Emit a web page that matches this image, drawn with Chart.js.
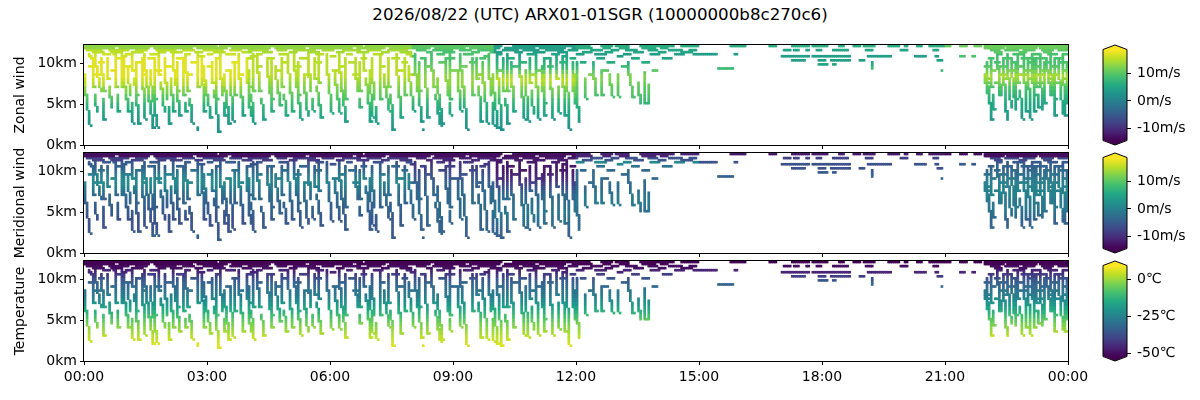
<!DOCTYPE html>
<html><head><meta charset="utf-8">
<script src="https://cdn.jsdelivr.net/npm/chart.js@4.4.1/dist/chart.umd.min.js"></script>
<style>
html,body{margin:0;padding:0;background:#fff;}
#wrap{position:relative;width:1200px;height:400px;overflow:hidden;background:#fff;}
#title{position:absolute;left:0;top:5px;width:1200px;text-align:center;font-family:"DejaVu Sans";font-size:16.67px;line-height:20px;color:#000;}
canvas{position:absolute;}
</style></head><body>
<div id="wrap">
<div id="title">2026/08/22 (UTC) ARX01-01SGR (10000000b8c270c6)</div>
<canvas id="p0"></canvas><canvas id="p1"></canvas><canvas id="p2"></canvas>
<canvas id="c0"></canvas><canvas id="c1"></canvas><canvas id="c2"></canvas>
</div>
<script>
// ---------------- data ----------------
const TIME_STEP_MIN = 3;
const HEIGHT_STEP_KM = 0.25;
const HEIGHT_MAX_KM = 12.25;
const xTickMinutes = [0,180,360,540,720,900,1080,1260,1440];
const xTickLabels = ["00:00","03:00","06:00","09:00","12:00","15:00","18:00","21:00","00:00"];
const yTickKm = [0,5,10];
const windTicks = [-10,0,10];
const tempTicks = [-50,-25,0];
const windRange = [-14.2,18.5];
const tempRange = [-52.1,9.3];
const panelTitles = ["Zonal wind","Meridional wind","Temperature"];

// profile levels (km) used to colour cells, and the time windows they apply to
const profileLevelsKm = [2,2.5,3,3.5,4,4.5,5,5.5,6,6.5,7,7.5,8,8.5,9,9.5,10,10.5,11,11.5,12];
const windowStarts = ["00:00","04:00","08:00","10:00","12:00","15:00","21:00"];

const zonalW0 = [2,3,3,4,5,6,7,9,10,12,13,15,16,17,17,17,17,17,16,15,13];
const zonalW1 = [3,3,4,5,6,7,8,9,10,11,12,13,14,15,15,15,15,15,15,14,13];
const zonalW2 = [2,3,3,4,5,6,7,8,10,11,12,13,13,13,12,11,10,9,9,9,10];
const zonalW3 = [2,3,3,4,5,6,7,8,10,11,12,14,15,14,11,8,7,6,5,4,4];
const zonalW4 = [2,3,3,4,5,6,7,8,9,10,10,11,12,12,10,8,6,5,4,5,6];
const zonalW5 = [2,3,3,4,5,6,7,8,9,10,10,11,12,12,8,8,5,4,4,5,6];
const zonalW6 = [2,3,3,3,4,5,5,6,7,8,9,11,13,14,12,10,9,9,9,10,11];

const meridW0 = [-4,-5,-6,-6,-6,-6,-5,-5,-4,-4,-3,-2,0,1,1,0,-2,-4,-5,-8,-13];
const meridW1 = [-5,-5,-5,-5,-5,-5,-4,-4,-4,-3,-3,-2,-1,0,0,-1,-3,-4,-6,-9,-13];
const meridW2 = [-4,-4,-4,-4,-4,-3,-3,-3,-3,-3,-3,-3,-4,-4,-5,-6,-7,-8,-9,-11,-13];
const meridW3 = [-4,-4,-4,-3,-2,-2,-1,-2,-2,-3,-3,-4,-6,-8,-10,-11,-12,-12,-12,-12,-13];
const meridW4 = [-3,-3,-3,-3,-3,-2,-2,-2,-1,-1,-1,-2,-3,-3,-3,-3,-3,-2,1,-6,-11];
const meridW5 = [-3,-3,-3,-3,-3,-3,-3,-3,-3,-3,-3,-3,-3,-3,-3,-4,-5,-6,-6,-8,-12];
const meridW6 = [-3,-3,-3,-4,-4,-3,-2,-1,-1,-1,0,0,0,0,-1,-2,-3,-4,-5,-7,-13];

const temperatureProfile = [6,4,3,1,-1,-3,-6,-9,-13,-16,-20,-23,-26,-28,-31,-33,-36,-41,-46,-50,-54];

// profile tracks: time, km, time, km ... ("~" before a time = gap before that point)
const descentTracks = [
 ["00:00",8.5,"00:03",6.0,"00:09",2.4],["00:06",11.0,"00:12",10.5,"00:15",7.0,"~00:16",6.0,"00:19",4.0],
 ["00:15",11.25,"00:18",9.5,"00:25",6.5,"~00:27",5.5,"00:30",3.0],["00:33",10.5,"00:36",8.0,"~00:37",7.0,"00:41",4.5],
 ["00:39",11.5,"00:45",11.0,"00:48",7.0,"~00:49",6.0,"00:51",4.0],["00:57",10.75,"00:58",8.0,"01:06",4.1],
 ["01:03",9.5,"01:08",6.0,"~01:09",5.0,"01:12",2.7],["01:09",11.25,"01:12",9.0,"~01:14",8.0,"01:21",2.6],["01:24",10.5,"01:30",3.2],
 ["01:27",11.0,"01:33",7.0,"01:42",2.0],["01:36",9.0,"01:45",3.5,"01:48",2.2],
 ["01:48",11.5,"01:51",8.5,"~01:53",7.5,"01:58",4.1],["01:57",10.5,"02:02",5.5,"~02:03",4.5,"02:06",2.6],["02:06",8.0,"02:12",4.0],
 ["02:09",11.25,"02:12",9.0,"02:21",3.5],["02:24",10.5,"02:27",6.0,"~02:28",5.0,"02:30",4.0],
 ["02:27",11.0,"02:33",6.5,"~02:35",5.5,"02:39",2.7],["02:45",2.0,"02:45",1.75],["02:51",10.5,"02:57",4.1],
 ["02:54",9.5,"03:00",6.0,"03:06",3.3],["03:06",10.0,"03:09",7.5,"~03:11",6.5,"03:18",1.6],
 ["03:18",11.0,"03:23",6.0,"~03:24",5.0,"03:27",3.6],["03:24",8.5,"03:33",2.6],["03:33",9.0,"03:39",2.9],
 ["03:45",11.0,"03:48",8.0,"03:54",3.6],["03:57",10.5,"04:04",3.5],["04:00",9.0,"04:03",7.0,"~04:05",6.0,"04:09",2.7],
 ["04:12",11.0,"04:18",6.5,"~04:20",5.5,"04:24",3.0],["04:27",10.5,"04:36",4.1],["04:39",9.5,"04:48",4.8],
 ["04:48",10.5,"04:51",7.0,"~04:53",6.0,"04:57",3.5],["04:57",11.0,"05:06",4.1],
 ["05:06",11.0,"05:12",7.0,"05:18",3.2],["05:21",8.5,"05:28",3.5],["05:27",11.0,"05:32",6.5,"~05:33",5.5,"05:36",4.2],
 ["05:36",10.5,"05:39",8.0,"~05:41",7.0,"05:48",3.3],["05:54",11.0,"06:03",3.9],["06:06",9.0,"06:15",3.9],
 ["06:12",11.0,"06:18",6.5,"06:24",2.8],["06:36",10.5,"06:41",6.5,"~06:42",5.5,"06:45",4.5],["06:48",11.0,"06:51",9.0,"~06:53",8.0,"07:00",2.8],
 ["06:57",9.0,"07:03",3.4],["07:00",10.5,"07:05",5.5,"~07:06",4.5,"07:09",2.7],["07:18",8.5,"07:27",4.2],
 ["07:24",10.5,"07:27",7.0,"~07:29",6.0,"07:33",1.8],["07:36",11.0,"07:45",3.3],["07:54",9.5,"08:03",4.2],
 ["08:03",11.0,"08:06",8.5,"08:15",2.8],["08:15",1.75,"08:15",1.75],["08:18",10.5,"08:24",3.3],
 ["08:27",11.0,"08:33",7.0,"~08:35",6.0,"08:42",2.4],["08:36",8.0,"08:45",2.6],["08:48",10.5,"08:53",6.0,"~08:54",5.0,"08:57",3.7],
 ["09:06",9.0,"09:12",4.2],["09:09",11.0,"09:15",7.0,"09:21",1.9],["09:33",10.5,"09:36",8.0,"~09:38",7.0,"09:42",2.8],
 ["09:42",10.0,"09:51",2.7],["09:51",11.0,"09:56",6.0,"~09:57",5.0,"10:00",2.4],["09:57",8.5,"10:06",2.0],
 ["10:03",11.0,"10:06",8.0,"10:12",1.8],["10:12",10.5,"10:15",6.5,"~10:17",5.5,"10:21",2.6],["10:24",10.0,"10:30",4.1],
 ["10:36",11.0,"10:45",3.2],["10:45",9.0,"10:51",2.9],["10:51",10.5,"10:54",7.5,"~10:55",6.5,"10:58",3.8],
 ["11:00",11.0,"11:06",3.2],["11:09",9.5,"11:15",3.5],["11:21",10.5,"11:27",3.2],
 ["11:30",11.0,"11:33",8.0,"~11:34",7.0,"11:36",3.9],["11:39",10.5,"11:45",3.6],["11:45",11.0,"11:51",1.9],
 ["11:57",8.5,"12:00",5.0],["12:00",10.0,"12:04",2.9],["12:12",8.0,"12:15",5.7],["12:24",10.0,"12:30",6.1],
 ["12:36",8.8,"12:39",6.0],["12:48",8.6,"12:54",5.9],["13:00",8.5,"13:03",5.9],
 ["13:15",10.0,"13:24",5.8],["13:30",7.5,"13:35",5.1],["13:39",8.8,"13:42",5.1],
 ["13:45",7.3,"13:47",5.1],["19:12",10.0,"19:12",9.25],["20:54",9.0,"20:54",9.0],
 ["21:57",8.7,"22:03",6.3],["22:03",7.0,"22:09",3.0],["22:06",10.5,"22:09",7.0,"~22:10",6.0,"22:12",4.3],
 ["22:15",11.0,"22:23",6.3],["22:24",10.5,"22:31",3.0],["22:30",11.0,"22:33",8.0,"22:37",4.6],
 ["22:36",10.5,"22:44",4.3],["22:45",11.0,"22:48",7.5,"~22:50",6.5,"22:54",3.2],["22:54",11.0,"23:00",4.1],
 ["23:00",10.5,"23:06",3.2],["23:06",11.0,"23:12",4.1],["23:12",10.5,"23:15",7.0,"~23:16",6.0,"23:18",4.5],
 ["23:18",11.0,"23:23",4.3],["23:27",10.5,"23:36",6.1],["23:33",11.0,"23:42",3.6],
 ["23:45",10.5,"23:53",3.8],["23:51",11.0,"23:57",3.6]
];
const shortTracks = [
 ["00:24",10.5,"00:30",6.5],["00:54",11.0,"00:57",7.0],["01:15",10.0,"01:18",6.0],["01:42",10.5,"01:45",5.5],
 ["02:15",10.0,"02:18",6.5],["02:45",11.0,"02:48",7.0],["03:12",10.5,"03:15",5.5],["03:39",10.0,"03:42",6.0],
 ["04:06",11.0,"04:09",6.5],["04:33",10.5,"04:36",5.5],["05:12",10.0,"05:15",6.0],["05:42",11.0,"05:45",7.5],
 ["06:21",10.5,"06:24",5.5],["06:42",10.0,"06:45",6.5],["07:12",11.0,"07:15",5.5],["07:48",10.5,"07:51",6.0],
 ["08:09",10.0,"08:12",6.5],["08:54",11.0,"08:57",5.5],["09:27",10.5,"09:30",6.0],["10:18",11.0,"10:21",6.5],
 ["11:12",10.5,"11:15",5.0],["11:54",10.0,"11:57",6.5],["22:00",10.0,"22:03",7.5],["22:18",9.5,"22:21",6.0],
 ["22:42",10.0,"22:45",5.5],["23:09",10.5,"23:12",6.0],["23:24",10.0,"23:27",5.0],["23:39",10.5,"23:42",5.5],
 ["23:57",10.0,"24:00",5.0]
];

// level (cruise) segments per height row: [start, end]
const row1200 = [["00:00","03:12"],["03:18","06:45"],["06:51","10:09"],["10:27","12:18"],["12:36","12:51"],["12:57","13:15"],["13:33","14:21"],["14:33","14:57"],["15:45","16:06"],["16:42","16:51"],["17:15","17:39"],["17:45","18:06"],["18:24","18:30"],["18:45","18:54"],["19:00","19:15"],["19:36","19:51"],["20:00","20:03"],["20:18","20:24"],["20:36","21:06"],["21:21","21:30"],["21:42","21:51"],["21:57","24:00"]];
const row1175 = [["00:00","00:42"],["00:51","01:33"],["01:42","02:36"],["02:45","03:27"],["03:36","04:30"],["04:39","05:21"],["05:30","06:30"],["06:39","07:18"],["07:27","08:24"],["08:33","09:15"],["09:24","10:06"],["10:15","10:57"],["11:06","11:42"],["11:54","12:21"],["12:39","12:48"],["13:03","13:15"],["13:36","13:54"],["14:03","14:12"],["21:57","22:24"],["22:30","23:12"],["23:18","24:00"]];
const row1150 = [["00:03","00:24"],["00:36","01:03"],["01:15","01:30"],["01:45","02:12"],["02:24","02:39"],["02:54","03:21"],["03:33","03:48"],["04:00","04:27"],["04:42","04:54"],["05:06","05:36"],["05:48","06:03"],["06:18","06:42"],["06:54","07:12"],["07:24","07:51"],["08:06","08:18"],["08:30","08:57"],["09:09","09:24"],["09:36","10:00"],["10:12","10:33"],["10:42","11:03"],["11:15","11:39"],["11:48","12:00"],["12:21","12:36"],["12:51","13:00"],["13:12","13:27"],["13:45","13:57"],["14:15","14:33"],["14:45","14:54"],["17:03","17:12"],["17:18","17:24"],["17:36","17:39"],["17:51","17:57"],["18:15","18:36"],["19:03","19:12"],["19:54","20:03"],["20:42","20:48"],["22:06","22:18"],["22:27","22:45"],["22:54","23:09"],["23:21","23:36"],["23:45","24:00"]];
const row1125 = [["00:12","00:27"],["00:45","00:54"],["01:09","01:24"],["01:51","01:57"],["02:06","02:21"],["02:42","02:51"],["03:09","03:24"],["03:51","04:03"],["04:21","04:33"],["05:00","05:09"],["05:27","05:42"],["06:09","06:18"],["06:39","06:54"],["07:15","07:24"],["07:42","07:57"],["08:21","08:27"],["08:45","09:00"],["09:27","09:36"],["09:54","10:09"],["10:30","10:39"],["10:57","11:12"],["11:33","11:45"],["12:09","12:21"],["12:42","12:51"],["13:24","13:36"],["14:00","14:09"],["14:33","14:48"],["22:12","22:21"],["22:48","22:57"],["23:24","23:33"]];
const row1100 = [["00:27","00:36"],["01:00","01:06"],["01:36","01:48"],["02:27","02:33"],["03:00","03:06"],["03:27","03:39"],["04:12","04:18"],["04:45","04:57"],["05:39","05:48"],["06:24","06:30"],["07:03","07:15"],["07:51","07:57"],["08:36","08:45"],["09:15","09:27"],["10:03","10:09"],["10:48","10:57"],["11:24","11:33"],["12:00","12:09"],["12:27","12:42"],["13:09","13:18"],["13:48","14:00"],["14:24","14:36"],["14:51","15:24"],["15:51","15:54"],["22:15","22:21"],["22:39","22:51"],["23:06","23:15"],["23:30","23:42"],["23:51","23:57"]];
const row1075 = [["00:54","01:00"],["02:48","02:54"],["04:03","04:09"],["06:00","06:06"],["07:57","08:03"],["09:45","09:51"],["11:39","11:45"],["13:00","13:06"],["17:00","17:12"],["17:15","17:24"],["17:27","17:39"],["17:45","18:27"],["18:30","18:39"],["19:06","19:24"],["19:27","19:39"],["20:15","20:30"],["20:45","20:48"],["21:21","21:27"],["21:39","21:42"]];
const row1050 = [["00:48","00:54"],["01:33","01:39"],["02:15","02:24"],["03:12","03:18"],["03:57","04:06"],["04:30","04:36"],["05:15","05:24"],["06:45","06:51"],["07:30","07:39"],["08:12","08:18"],["08:51","09:00"],["09:39","09:45"],["10:18","10:27"],["11:12","11:18"],["11:51","11:57"],["12:30","12:39"],["13:21","13:30"],["14:06","14:18"],["22:03","22:09"],["22:24","22:33"],["22:51","23:03"],["23:15","23:24"],["23:39","23:48"]];
const row1025 = [["17:15","17:33"],["17:54","18:03"],["18:12","18:27"],["18:30","18:39"],["18:54","19:00"],["20:48","20:54"]];
const row1000 = [["00:21","00:27"],["01:18","01:27"],["02:36","02:42"],["03:36","03:42"],["04:51","04:57"],["05:39","05:45"],["06:27","06:36"],["07:45","07:51"],["08:39","08:45"],["09:24","09:30"],["10:39","10:45"],["11:36","11:42"],["12:06","12:12"],["12:45","12:54"],["13:36","13:45"],["22:12","22:18"],["22:36","22:42"],["23:00","23:09"],["23:27","23:33"],["23:48","23:57"]];
const row0975 = [["17:54","18:06"],["18:15","18:18"]];
const row0950 = [["00:06","00:12"],["01:00","01:06"],["02:00","02:09"],["03:00","03:06"],["04:12","04:18"],["05:09","05:15"],["06:15","06:21"],["07:12","07:18"],["08:21","08:27"],["09:12","09:18"],["10:27","10:33"],["11:18","11:24"],["13:06","13:15"],["21:57","22:03"],["22:18","22:30"],["22:45","22:51"],["23:09","23:18"],["23:36","23:45"]];
const row0925 = [["15:27","15:48"]];
const row0900 = [["00:39","00:45"],["01:45","01:51"],["03:27","03:33"],["04:39","04:45"],["06:03","06:09"],["07:39","07:45"],["08:57","09:03"],["10:06","10:12"],["11:03","11:09"],["12:36","12:45"],["13:51","13:57"],["22:06","22:12"],["22:33","22:39"],["22:57","23:03"],["23:21","23:27"],["23:51","24:00"]];
const row0850 = [["00:15","00:21"],["01:24","01:30"],["02:30","02:36"],["03:45","03:51"],["05:24","05:30"],["06:33","06:39"],["07:54","08:00"],["09:36","09:42"],["10:51","10:57"],["12:18","12:24"],["22:21","22:27"],["22:48","22:57"],["23:12","23:21"],["23:39","23:45"]];
const row0800 = [["22:00","22:06"],["22:27","22:33"],["23:03","23:09"],["23:30","23:39"],["23:54","24:00"]];
const row0750 = [["22:12","22:15"],["22:39","22:45"],["23:15","23:21"],["23:42","23:48"]];
const levelRowKm = [12.0,11.75,11.5,11.25,11.0,10.75,10.5,10.25,10.0,9.75,9.5,9.25,9.0,8.5,8.0,7.5];

// ---------------- build ----------------
const levelRows = [row1200,row1175,row1150,row1125,row1100,row1075,row1050,row1025,row1000,row0975,row0950,row0925,row0900,row0850,row0800,row0750];
const zonalProfiles = [zonalW0,zonalW1,zonalW2,zonalW3,zonalW4,zonalW5,zonalW6];
const meridProfiles = [meridW0,meridW1,meridW2,meridW3,meridW4,meridW5,meridW6];
const NT = Math.round(1440/TIME_STEP_MIN);

function toMin(s){ const p=s.replace('~','').split(':'); return (+p[0])*60+(+p[1]); }
const cellSet = new Set();
function mark(t,h){
  let ti=Math.floor(t/TIME_STEP_MIN); if(ti>=NT) ti=NT-1; if(ti<0) ti=0;
  const hi=Math.floor(h/HEIGHT_STEP_KM+1e-6);
  cellSet.add(ti*64+hi);
}
function rasterSegment(t0,h0,t1,h1){
  const n=Math.max(1,Math.ceil(Math.max(Math.abs(t1-t0)/TIME_STEP_MIN,Math.abs(h1-h0)/HEIGHT_STEP_KM))*2);
  for(let k=0;k<=n;k++) mark(t0+(t1-t0)*k/n, h0+(h1-h0)*k/n);
}
descentTracks.concat(shortTracks).forEach(tr=>{
  for(let i=0;i+3<tr.length;i+=2){
    if(String(tr[i+2]).charAt(0)==='~'){ mark(toMin(tr[i+2]),tr[i+3]); continue; }
    rasterSegment(toMin(tr[i]),tr[i+1],toMin(tr[i+2]),tr[i+3]);
  }
});
levelRows.forEach((row,r)=>row.forEach(([a,b])=>rasterSegment(toMin(a),levelRowKm[r],toMin(b),levelRowKm[r])));

const cells = Array.from(cellSet).sort((a,b)=>a-b).map(c=>({ti:Math.floor(c/64),hi:c%64}));
const windowMin = windowStarts.map(toMin);
function windowIndex(m){ let w=0; windowMin.forEach((s,i)=>{ if(m>=s) w=i; }); return w; }
function levelIndex(km){
  let best=0,bd=1e9;
  profileLevelsKm.forEach((l,i)=>{ const d=Math.abs(l-km); if(d<bd-1e-9){bd=d;best=i;} });
  return best;
}
const zonalValues=[], meridValues=[], tempValues=[];
cells.forEach(c=>{
  const m=c.ti*TIME_STEP_MIN, km=c.hi*HEIGHT_STEP_KM+HEIGHT_STEP_KM/2;
  const w=windowIndex(m), li=levelIndex(km);
  zonalValues.push(zonalProfiles[w][li]);
  meridValues.push(meridProfiles[w][li]);
  tempValues.push(temperatureProfile[li]);
});

// ---------------- style ----------------
const VIRIDIS = ["#440154","#482475","#414487","#355f8d","#2a788e","#21918c","#22a884","#44bf70","#7ad151","#bddf26","#fde725"];
function hexRgb(h){ return [parseInt(h.slice(1,3),16),parseInt(h.slice(3,5),16),parseInt(h.slice(5,7),16)]; }
const VRGB = VIRIDIS.map(hexRgb);
function viridis(f){
  f=Math.max(0,Math.min(1,f)); const p=f*(VRGB.length-1); const i=Math.min(VRGB.length-2,Math.floor(p)); const t=p-i;
  const a=VRGB[i], b=VRGB[i+1];
  return 'rgb('+Math.round(a[0]+(b[0]-a[0])*t)+','+Math.round(a[1]+(b[1]-a[1])*t)+','+Math.round(a[2]+(b[2]-a[2])*t)+')';
}
Chart.defaults.font.family = "'DejaVu Sans'";
Chart.defaults.font.size = 14;
Chart.defaults.color = '#000';

const frame = { id:'frame', afterDraw(chart){ const a=chart.chartArea, c=chart.ctx; c.save(); c.strokeStyle='#000'; c.lineWidth=1; c.strokeRect(Math.round(a.left)-0.5,Math.round(a.top)-0.5,Math.round(a.right-a.left)+1,Math.round(a.bottom-a.top)+1); c.restore(); } };
const cbShape = { id:'cbShape', afterDatasetsDraw(chart){
  const a=chart.chartArea, c=chart.ctx, ext=4.5, cx=(a.left+a.right)/2;
  c.save();
  c.fillStyle=VIRIDIS[VIRIDIS.length-1];
  c.beginPath(); c.moveTo(a.left,a.top+0.5); c.lineTo(cx,a.top-ext); c.lineTo(a.right,a.top+0.5); c.closePath(); c.fill();
  c.fillStyle=VIRIDIS[0];
  c.beginPath(); c.moveTo(a.left,a.bottom-0.5); c.lineTo(cx,a.bottom+ext); c.lineTo(a.right,a.bottom-0.5); c.closePath(); c.fill();
  c.strokeStyle='#000'; c.lineWidth=1;
  c.beginPath(); c.moveTo(a.left,a.top); c.lineTo(cx,a.top-ext); c.lineTo(a.right,a.top); c.lineTo(a.right,a.bottom); c.lineTo(cx,a.bottom+ext); c.lineTo(a.left,a.bottom); c.closePath(); c.stroke();
  c.restore();
} };

function setCanvas(cv,left,top,w,h){ cv.width=w; cv.height=h; cv.style.left=left+'px'; cv.style.top=top+'px'; cv.style.width=w+'px'; cv.style.height=h+'px'; }

// nudge layout padding until the plot area sits exactly on the target rectangle
function fitArea(chart,pad,cl,ct,tg){
  for(let k=0;k<5;k++){
    const a=chart.chartArea;
    const dT=tg.top-(ct+a.top), dB=(ct+a.bottom)-tg.bottom, dL=tg.left-(cl+a.left), dR=(cl+a.right)-tg.right;
    if(Math.abs(dT)+Math.abs(dB)+Math.abs(dL)+Math.abs(dR)<0.05) break;
    pad.top+=dT; pad.bottom+=dB; pad.left+=dL; pad.right+=dR;
    chart.update('none');
  }
}

function makePanel(id, top, values, range, yTitle, showX){
  const cv=document.getElementById(id);
  const xh = showX ? 40 : 16;
  const ct = top-16, cl = 0;
  setCanvas(cv,cl,ct,1110,16+100+xh);
  const pad={top:16,bottom:0,left:0,right:42};
  const chart = new Chart(cv,{
    type:'bar',
    data:{datasets:[{
      data: cells.map(c=>({x:c.ti*TIME_STEP_MIN+TIME_STEP_MIN/2, y:[c.hi*HEIGHT_STEP_KM, (c.hi+1)*HEIGHT_STEP_KM]})),
      backgroundColor: values.map(v=>viridis((v-range[0])/(range[1]-range[0]))),
      borderWidth:0, barPercentage:1, categoryPercentage:1, inflateAmount:0.3
    }]},
    options:{
      responsive:false, animation:false, events:[], devicePixelRatio:1,
      layout:{padding:pad},
      plugins:{legend:{display:false},tooltip:{enabled:false}},
      scales:{
        x:{type:'linear',min:0,max:1440,offset:false,
           afterBuildTicks:s=>{s.ticks=xTickMinutes.map(v=>({value:v}));},
           afterFit:s=>{s.height=xh;},
           grid:{drawOnChartArea:false,drawTicks:true,tickLength:4,color:'#000',offset:false},
           border:{display:false},
           ticks:{display:showX,autoSkip:false,maxRotation:0,padding:4,callback:(v,i)=>xTickLabels[i]}},
        y:{type:'linear',min:0,max:HEIGHT_MAX_KM,
           afterBuildTicks:s=>{s.ticks=yTickKm.map(v=>({value:v}));},
           afterFit:s=>{s.width=84;},
           grid:{drawOnChartArea:false,tickLength:4,color:'#000'},
           border:{display:false},
           ticks:{padding:3,callback:v=>v+'km'},
           title:{display:true,text:yTitle,padding:{top:12,bottom:0}}}
      }
    },
    plugins:[frame]
  });
  fitArea(chart,pad,cl,ct,{left:84,right:1068,top:top,bottom:top+100});
}

function makeColorbar(id, top, range, ticks, unit){
  const cv=document.getElementById(id);
  const ct=top-16, cl=1090;
  setCanvas(cv,cl,ct,110,132);
  const pad={top:20.5,bottom:20.5,left:13,right:0};
  const chart = new Chart(cv,{
    type:'bar',
    data:{labels:['c'],datasets:[{
      data:[[range[0],range[1]]],
      backgroundColor:(ctx)=>{ const a=ctx.chart.chartArea; if(!a) return VIRIDIS[5];
        const g=ctx.chart.ctx.createLinearGradient(0,a.bottom,0,a.top);
        VIRIDIS.forEach((c,i)=>g.addColorStop(i/(VIRIDIS.length-1),c)); return g; },
      borderWidth:0, barPercentage:1, categoryPercentage:1, inflateAmount:0
    }]},
    options:{
      responsive:false, animation:false, events:[], devicePixelRatio:1,
      layout:{padding:pad},
      plugins:{legend:{display:false},tooltip:{enabled:false}},
      scales:{
        x:{display:false},
        y:{position:'right',min:range[0],max:range[1],
           afterBuildTicks:s=>{s.ticks=ticks.map(v=>({value:v}));},
           afterFit:s=>{s.width=73;},
           grid:{drawOnChartArea:false,tickLength:4,color:'#000'},
           border:{display:false},
           ticks:{padding:6,callback:v=>v+unit}}
      }
    },
    plugins:[cbShape]
  });
  fitArea(chart,pad,cl,ct,{left:1103,right:1127,top:top+4.5,bottom:top+95.5});
}

const panelTops=[45,153,261];
makePanel('p0',panelTops[0],zonalValues,windRange,panelTitles[0],false);
makePanel('p1',panelTops[1],meridValues,windRange,panelTitles[1],false);
makePanel('p2',panelTops[2],tempValues,tempRange,panelTitles[2],true);
makeColorbar('c0',panelTops[0],windRange,windTicks,'m/s');
makeColorbar('c1',panelTops[1],windRange,windTicks,'m/s');
makeColorbar('c2',panelTops[2],tempRange,tempTicks,'℃');
</script>
</body></html>
